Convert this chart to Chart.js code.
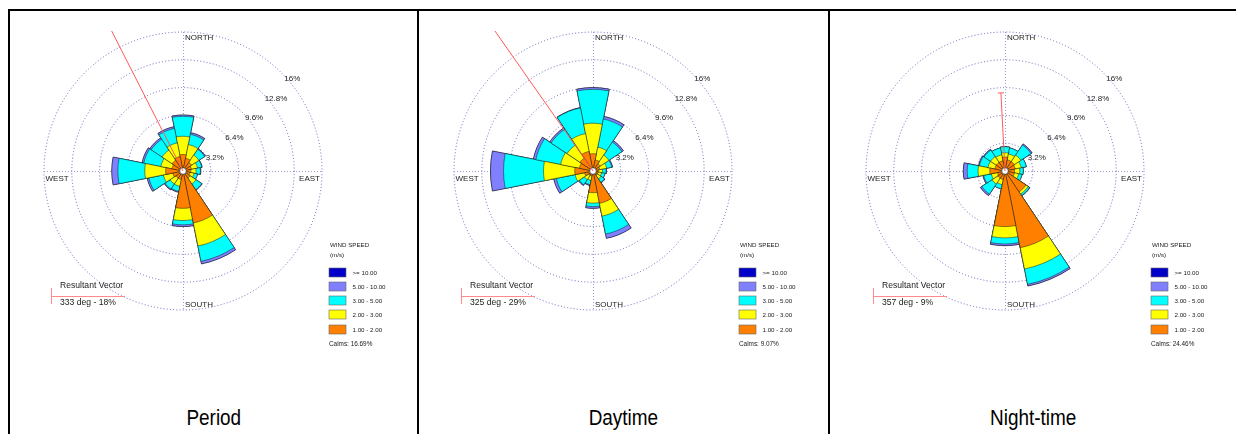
<!DOCTYPE html>
<html>
<head>
<meta charset="utf-8">
<script src="https://cdn.jsdelivr.net/npm/chart.js@4.4.0/dist/chart.umd.min.js"></script>
<style>
  html, body { margin: 0; padding: 0; background: #fff; width: 1236px; height: 434px; overflow: hidden; position: relative;
    font-family: 'Liberation Sans', Arial, sans-serif; }
  .rule { position: absolute; background: #000; }
  canvas.rose { position: absolute; }
  .caption { position: absolute; top: 407px; font-size: 22px; line-height: 22px; color: #000; text-align: center; }
  .caption span { display: inline-block; transform: scaleX(0.86); transform-origin: center; }
</style>
</head>
<body>
<div class="rule" style="left:8px;top:9px;width:1228px;height:2px"></div>
<div class="rule" style="left:8px;top:9px;width:2px;height:425px"></div>
<div class="rule" style="left:417px;top:9px;width:2px;height:425px"></div>
<div class="rule" style="left:828px;top:9px;width:2px;height:425px"></div>
<div id="panels"></div>

<script>
// Sixteen compass sectors, clockwise from north
const DIRECTIONS = ['N','NNE','NE','ENE','E','ESE','SE','SSE','S','SSW','SW','WSW','W','WNW','NW','NNW'];

// Wind speed classes (m/s), slowest first, and their fill colours
const SPEED_CLASSES = ['1.00 - 2.00', '2.00 - 3.00', '3.00 - 5.00', '5.00 - 10.00', '>= 10.00'];
const SPEED_COLORS  = ['#ff8000', '#ffff00', '#00ffff', '#8080ff', '#0000c8'];

// Frequency rings (%) and compass captions
const RING_TICKS = [3.2, 6.4, 9.6, 12.8, 16];
const COMPASS_LABELS = ['NORTH', 'EAST', 'SOUTH', 'WEST'];
const PANEL_TITLES = ['Period', 'Daytime', 'Night-time'];

// Whole period: frequency (%) per sector for each speed class
const PERIOD_1_2   = [1.9, 1.5, 1.2, 1.0, 0.9, 0.8, 1.0, 6.1, 4.3, 1.0, 1.0, 1.2, 2.0, 1.3, 1.5, 1.7];
const PERIOD_2_3   = [2.1, 1.6, 1.0, 0.7, 0.6, 0.5, 0.8, 2.7, 1.4, 0.8, 0.8, 1.1, 2.4, 1.3, 1.4, 1.6];
const PERIOD_3_5   = [2.3, 1.2, 0.8, 0.5, 0.5, 0.4, 0.8, 1.8, 0.5, 0.6, 0.7, 1.7, 3.1, 2.0, 1.5, 1.7];
const PERIOD_5_10  = [0.15, 0.2, 0.1, 0.05, 0.05, 0, 0.05, 0.3, 0.2, 0.1, 0.1, 0.2, 0.7, 0.2, 0.2, 0.2];
const PERIOD_10_UP = [0, 0, 0, 0, 0, 0, 0, 0, 0, 0, 0, 0, 0, 0, 0, 0];

// Daytime
const DAY_1_2   = [2.0, 1.3, 1.0, 0.8, 0.6, 0.6, 0.6, 3.8, 2.5, 0.6, 0.6, 1.0, 2.1, 1.6, 1.8, 2.3];
const DAY_2_3   = [3.5, 1.5, 1.2, 0.8, 0.5, 0.4, 0.5, 1.5, 1.2, 0.5, 0.6, 1.1, 3.6, 2.2, 1.8, 2.1];
const DAY_3_5   = [3.9, 3.3, 1.8, 0.6, 0.4, 0.4, 0.5, 2.1, 0.4, 0.5, 0.7, 2.2, 4.6, 2.9, 2.2, 3.0];
const DAY_5_10  = [0.2, 0.3, 0.2, 0.1, 0.05, 0, 0.05, 0.5, 0.2, 0.1, 0.1, 0.3, 1.5, 0.3, 0.2, 0.05];
const DAY_10_UP = [0, 0, 0, 0, 0, 0, 0, 0, 0, 0, 0, 0, 0, 0, 0, 0];

// Night-time
const NIGHT_1_2   = [1.6, 1.3, 1.3, 1.2, 1.1, 1.1, 2.9, 9.0, 6.4, 1.0, 1.0, 0.9, 1.75, 1.2, 1.2, 1.2];
const NIGHT_2_3   = [0.5, 0.7, 0.9, 0.7, 0.6, 0.5, 0.3, 2.5, 1.3, 0.6, 0.8, 0.7, 1.35, 0.8, 0.8, 0.7];
const NIGHT_3_5   = [0.7, 0.7, 1.4, 0.6, 0.4, 0.4, 0.2, 1.8, 0.7, 0.5, 1.4, 0.9, 1.25, 1.0, 0.9, 0.8];
const NIGHT_5_10  = [0, 0, 0.15, 0, 0, 0, 0.05, 0.2, 0.2, 0, 0.2, 0.1, 0.45, 0.1, 0.1, 0];
const NIGHT_10_UP = [0, 0, 0, 0, 0, 0, 0, 0, 0, 0, 0, 0, 0, 0, 0, 0];

// Resultant vectors (bearing in degrees, magnitude in %) and calm frequencies
const RESULTANT_BEARING = [333, 325, 357];
const RESULTANT_PERCENT = [18, 29, 9];
const CALMS = [16.69, 9.07, 24.46];

const PANELS = [
  { title: PANEL_TITLES[0], classes: [PERIOD_1_2, PERIOD_2_3, PERIOD_3_5, PERIOD_5_10, PERIOD_10_UP],
    bearing: RESULTANT_BEARING[0], percent: RESULTANT_PERCENT[0], calms: CALMS[0], cx: 183, cellL: 10, cellR: 417 },
  { title: PANEL_TITLES[1], classes: [DAY_1_2, DAY_2_3, DAY_3_5, DAY_5_10, DAY_10_UP],
    bearing: RESULTANT_BEARING[1], percent: RESULTANT_PERCENT[1], calms: CALMS[1], cx: 593, cellL: 419, cellR: 828 },
  { title: PANEL_TITLES[2], classes: [NIGHT_1_2, NIGHT_2_3, NIGHT_3_5, NIGHT_5_10, NIGHT_10_UP],
    bearing: RESULTANT_BEARING[2], percent: RESULTANT_PERCENT[2], calms: CALMS[2], cx: 1005, cellL: 830, cellR: 1236 }
];

// Canvas geometry: the rose centre sits in the middle of each canvas
const CANVAS_W = 444, CANVAS_H = 360, CENTER_Y = 171;
const OUTER_RADIUS = 139;                  // pixel radius of the outermost ring
const FONT = "'Liberation Sans', Arial, sans-serif";
const OUTER_RING = RING_TICKS[RING_TICKS.length - 1];

function cumulative(classes) {
  const out = [];
  let run = DIRECTIONS.map(() => 0);
  classes.forEach(arr => {
    run = run.map((v, i) => +(v + arr[i]).toFixed(3));
    out.push(run.slice());
  });
  return out;
}

function decorPlugin(panel) {
  return {
    id: 'roseDecor',
    beforeDatasetsDraw(chart) {
      const s = chart.scales.r, ctx = chart.ctx;
      const cx = s.xCenter, cy = s.yCenter, R = s.getDistanceFromCenterForValue(OUTER_RING);
      ctx.save();
      ctx.strokeStyle = 'rgba(150,150,215,0.95)';
      ctx.lineWidth = 1;
      ctx.setLineDash([1, 2]);
      ctx.beginPath();
      ctx.moveTo(cx + 0.5, cy - R); ctx.lineTo(cx + 0.5, cy + R);
      ctx.moveTo(cx - R, cy + 0.5); ctx.lineTo(cx + R, cy + 0.5);
      ctx.stroke();
      ctx.restore();
    },
    afterDatasetsDraw(chart) {
      const s = chart.scales.r, ctx = chart.ctx;
      const cx = s.xCenter, cy = s.yCenter, R = s.getDistanceFromCenterForValue(OUTER_RING);
      ctx.save();

      // calm hole in the middle
      ctx.beginPath();
      ctx.arc(cx, cy, 3.3, 0, Math.PI * 2);
      ctx.fillStyle = '#fff';
      ctx.fill();
      ctx.lineWidth = 0.7;
      ctx.strokeStyle = '#333';
      ctx.stroke();

      // resultant vector; vectors longer than the outer ring run off to the frame edge
      const b = panel.bearing * Math.PI / 180;
      const inside = panel.percent < OUTER_RING;
      const d = s.getDistanceFromCenterForValue(inside ? panel.percent : panel.percent * 2);
      const ex = cx + d * Math.sin(b), ey = cy - d * Math.cos(b);
      ctx.save();
      ctx.beginPath();
      ctx.rect(0, cy - R - 1, chart.width, chart.height);
      ctx.clip();
      ctx.strokeStyle = '#ff5a5a';
      ctx.lineWidth = 1;
      ctx.beginPath();
      ctx.moveTo(cx, cy); ctx.lineTo(ex, ey);
      if (inside) {
        const px = Math.cos(b) * 3, py = Math.sin(b) * 3;
        ctx.moveTo(ex - px, ey - py); ctx.lineTo(ex + px, ey + py);
      }
      ctx.stroke();
      ctx.restore();

      // ring percentages along the north-east diagonal
      ctx.fillStyle = '#222';
      ctx.font = '8px ' + FONT;
      ctx.textAlign = 'left';
      ctx.textBaseline = 'middle';
      RING_TICKS.forEach(v => {
        const r = s.getDistanceFromCenterForValue(v);
        const a = 45 * Math.PI / 180;
        ctx.fillText(String(v) + '%', cx + r * Math.sin(a) + 3, cy - r * Math.cos(a) + 6);
      });

      // compass points
      ctx.fillText(COMPASS_LABELS[0], cx + 2, cy - R + 5.5);
      ctx.fillText(COMPASS_LABELS[2], cx + 2, cy + R - 5);
      ctx.fillText(COMPASS_LABELS[3], cx - R + 1.5, cy + 8);
      ctx.textAlign = 'right';
      ctx.fillText(COMPASS_LABELS[1], cx + R - 2, cy + 8);

      // resultant vector key
      ctx.strokeStyle = '#ff8a8a';
      ctx.lineWidth = 1;
      ctx.beginPath();
      ctx.moveTo(cx - 131.5, cy + 117); ctx.lineTo(cx - 131.5, cy + 133);
      ctx.moveTo(cx - 132, cy + 125.5); ctx.lineTo(cx - 58, cy + 125.5);
      ctx.stroke();
      ctx.textAlign = 'left';
      ctx.font = '8.6px ' + FONT;
      ctx.fillText('Resultant Vector', cx - 123, cy + 114.5);
      ctx.fillText(panel.bearing + ' deg - ' + panel.percent + '%', cx - 123, cy + 132);

      // speed key
      ctx.font = '6.2px ' + FONT;
      ctx.fillText('WIND SPEED', cx + 147, cy + 74.5);
      ctx.fillText('(m/s)', cx + 147, cy + 84);
      for (let i = 0; i < SPEED_CLASSES.length; i++) {
        const k = SPEED_CLASSES.length - 1 - i;
        const top = Math.round(cy + 96.7 + i * 14.2);
        ctx.fillStyle = SPEED_COLORS[k];
        ctx.fillRect(cx + 146, top, 17, 9);
        ctx.strokeStyle = '#666';
        ctx.lineWidth = 0.6;
        ctx.strokeRect(cx + 146, top, 17, 9);
        ctx.fillStyle = '#222';
        ctx.fillText(SPEED_CLASSES[k], cx + 169.5, top + 4.8);
      }
      ctx.font = '6.4px ' + FONT;
      ctx.fillText('Calms: ' + panel.calms.toFixed(2) + '%', cx + 146, cy + 173.5);
      ctx.restore();
    }
  };
}

const host = document.getElementById('panels');
PANELS.forEach(panel => {
  const canvas = document.createElement('canvas');
  canvas.className = 'rose';
  canvas.width = CANVAS_W;
  canvas.height = CANVAS_H;
  canvas.style.left = (panel.cx - CANVAS_W / 2) + 'px';
  canvas.style.top = (CENTER_Y - CANVAS_H / 2) + 'px';
  host.appendChild(canvas);

  const cap = document.createElement('div');
  cap.className = 'caption';
  cap.style.left = panel.cellL + 'px';
  cap.style.width = (panel.cellR - panel.cellL) + 'px';
  const span = document.createElement('span');
  span.textContent = panel.title;
  cap.appendChild(span);
  document.body.appendChild(cap);

  const stacks = cumulative(panel.classes);
  const drawRadius = Math.min(CANVAS_W, CANVAS_H) / 2;

  new Chart(canvas, {
    type: 'polarArea',
    data: {
      labels: DIRECTIONS,
      datasets: stacks.map((vals, k) => ({
        label: SPEED_CLASSES[k],
        data: vals,
        backgroundColor: SPEED_COLORS[k],
        borderColor: 'rgba(20,20,20,0.8)',
        borderWidth: 0.6
      }))
    },
    options: {
      responsive: false,
      animation: false,
      events: [],
      layout: { padding: 0 },
      plugins: { legend: { display: false }, tooltip: { enabled: false } },
      scales: {
        r: {
          min: 0,
          max: OUTER_RING * drawRadius / OUTER_RADIUS,
          startAngle: -360 / DIRECTIONS.length / 2,
          ticks: { display: false },
          afterBuildTicks: sc => { sc.ticks = [0].concat(RING_TICKS).map(v => ({ value: v })); },
          angleLines: { display: false },
          pointLabels: { display: false },
          grid: { circular: true, color: 'rgba(70,70,175,0.8)', lineWidth: 1 },
          border: { dash: [1, 2.2] }
        }
      }
    },
    plugins: [decorPlugin(panel)]
  });
});
</script>
</body>
</html>
